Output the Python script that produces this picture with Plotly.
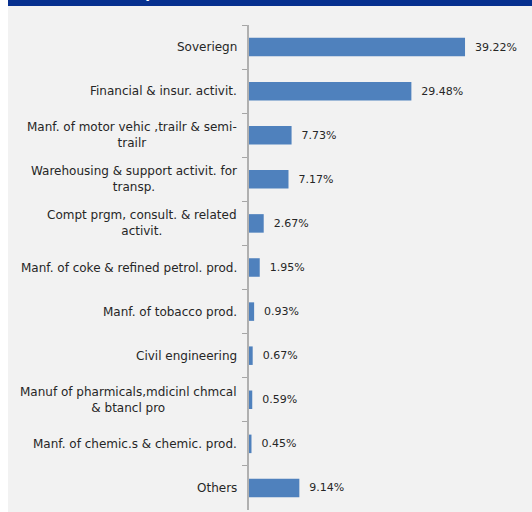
import plotly.graph_objects as go

categories = [
    "Soveriegn",
    "Financial & insur. activit.",
    "Manf. of motor vehic ,trailr & semi-<br>trailr",
    "Warehousing & support activit. for<br>transp.",
    "Compt prgm, consult. & related<br>activit.",
    "Manf. of coke & refined petrol. prod.",
    "Manf. of tobacco prod.",
    "Civil engineering",
    "Manuf of pharmicals,mdicinl chmcal<br>& btancl pro",
    "Manf. of chemic.s & chemic. prod.",
    "Others",
]
values = [39.22, 29.48, 7.73, 7.17, 2.67, 1.95, 0.93, 0.67, 0.59, 0.45, 9.14]
value_labels = ["39.22%", "29.48%", "7.73%", "7.17%", "2.67%", "1.95%", "0.93%", "0.67%", "0.59%", "0.45%", "9.14%"]
header_title = "Sectoral break-up"

W, H = 532, 512
L, R, T, B = 249, 12, 25, 2
PW, PH = W - L - R, H - T - B

def px(x):
    return (x - L) / PW

def py(y):
    return (H - B - y) / PH

FONT = "DejaVu Sans"
TXT = "#262626"

fig = go.Figure(go.Bar(
    x=values, y=categories, orientation="h",
    marker=dict(color="#4F81BD", line=dict(width=0)),
    width=0.42,
    text=["  " + v for v in value_labels], textposition="outside",
    textfont=dict(family=FONT, size=11, color=TXT),
    cliponaxis=False, hoverinfo="skip",
))

annotations = []
for c in categories:
    annotations.append(dict(
        x=px(239), xref="paper", y=c, yref="y", text=c, showarrow=False,
        xanchor="right", yanchor="middle", align="center",
        font=dict(family=FONT, size=12, color=TXT),
    ))
annotations.append(dict(
    x=px(12), xref="paper", y=py(3), yref="paper", text="<b>" + header_title + "</b>",
    showarrow=False, xanchor="left", yanchor="bottom",
    font=dict(family=FONT, size=14, color="white"),
))

shapes = [
    dict(type="rect", xref="paper", yref="paper", x0=px(8), x1=px(540), y0=py(520), y1=py(0),
         fillcolor="#F2F2F2", line=dict(width=0), layer="below"),
    dict(type="rect", xref="paper", yref="paper", x0=px(8), x1=px(540), y0=py(6), y1=py(-20),
         fillcolor="#07308F", line=dict(width=0), layer="below"),
]

fig.update_layout(
    width=W, height=H,
    margin=dict(l=L, r=R, t=T, b=B),
    paper_bgcolor="white", plot_bgcolor="#F2F2F2",
    showlegend=False,
    xaxis=dict(range=[0, 49.2], visible=False, fixedrange=True),
    yaxis=dict(
        autorange="reversed", showticklabels=False,
        ticks="outside", tickson="boundaries", ticklen=5, tickcolor="#A6A6A6", tickwidth=1,
        showline=True, linecolor="#B0B0B0", linewidth=2, showgrid=False, zeroline=False,
    ),
    annotations=annotations, shapes=shapes,
)

fig.write_html("out.html")
